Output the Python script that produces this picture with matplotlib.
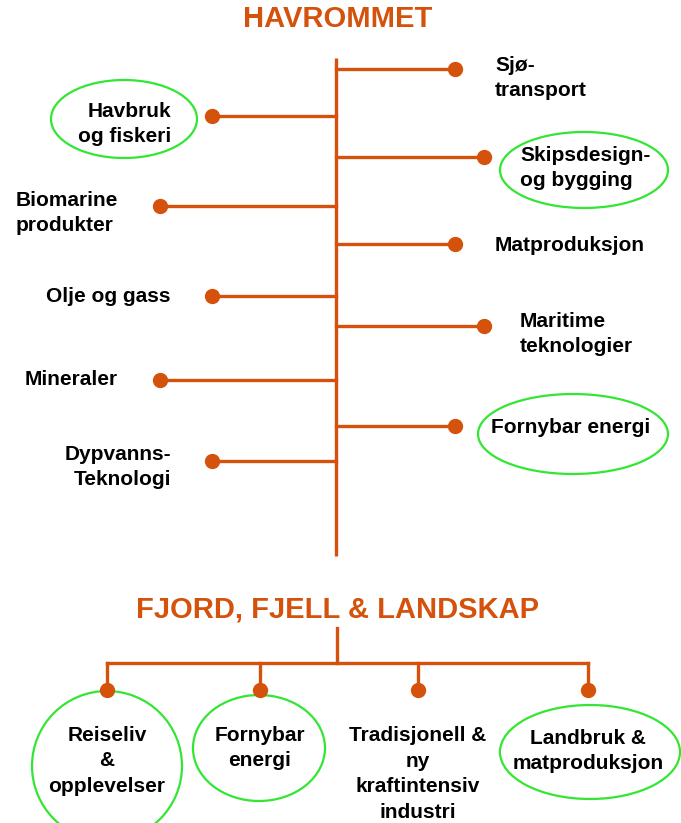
import matplotlib.pyplot as plt
from matplotlib.patches import Ellipse

plt.rcParams['font.family'] = ['Liberation Sans', 'DejaVu Sans']

ORANGE = '#D4520C'
GREEN = '#33E633'

title_sea = "HAVROMMET"
title_land = "FJORD, FJELL & LANDSKAP"

sea_right = ["Sjø-\ntransport", "Skipsdesign-\nog bygging", "Matproduksjon",
             "Maritime\nteknologier", "Fornybar energi"]
sea_left = ["Havbruk\nog fiskeri", "Biomarine\nprodukter", "Olje og gass",
            "Mineraler", "Dypvanns-\nTeknologi"]
land = ["Reiseliv\n&\nopplevelser", "Fornybar\nenergi",
        "Tradisjonell &\nny\nkraftintensiv\nindustri", "Landbruk &\nmatproduksjon"]

# layout (pixel coordinates of the 681x823 picture)
trunk_x = 336
right_y = [69, 157, 244, 326, 426]
right_end = [455, 484, 455, 484, 455]
right_text = [(495, 78, 'left'), (520, 168, 'left'), (495, 245, 'left'),
              (520, 334, 'left'), (491, 427, 'left')]
right_ell = {1: (584, 170, 168, 76), 4: (573, 434, 190, 80)}

left_y = [116, 206, 296, 380, 461]
left_end = [212, 160, 212, 160, 212]
left_text = [(171, 124, 'right'), (16, 213, 'left'), (171, 296, 'right'),
             (25, 379, 'left'), (171, 467, 'right')]
left_ell = {0: (124, 119, 146, 78)}

land_x = [107, 260, 418, 588]
land_text_y = [761, 748, 774, 751]
land_ell = {0: (107, 766, 150, 150), 1: (259, 748, 132, 106), 3: (590, 752, 180, 94)}

fig = plt.figure(figsize=(6.81, 8.23), dpi=100)
ax = fig.add_axes([0, 0, 1, 1])
ax.set_xlim(0, 681)
ax.set_ylim(823, 0)
ax.axis('off')

lw = 2.4
txt = dict(fontsize=15, fontweight='bold', color='black', va='center', linespacing=1.45)

ax.text(338, 19, title_sea, fontsize=21, fontweight='bold', color=ORANGE,
        ha='center', va='center')
ax.plot([trunk_x, trunk_x], [58, 556], color=ORANGE, lw=lw, solid_capstyle='butt')

for i, lab in enumerate(sea_right):
    y = right_y[i]
    ax.plot([trunk_x, right_end[i]], [y, y], color=ORANGE, lw=lw)
    ax.plot(right_end[i], y, 'o', color=ORANGE, ms=10)
    tx, ty, ha = right_text[i]
    ax.text(tx, ty, lab, ha=ha, multialignment='left', **txt)
    if i in right_ell:
        cx, cy, w, h = right_ell[i]
        ax.add_patch(Ellipse((cx, cy), w, h, fill=False, ec=GREEN, lw=1.6))

for i, lab in enumerate(sea_left):
    y = left_y[i]
    ax.plot([left_end[i], trunk_x], [y, y], color=ORANGE, lw=lw)
    ax.plot(left_end[i], y, 'o', color=ORANGE, ms=10)
    tx, ty, ha = left_text[i]
    ax.text(tx, ty, lab, ha=ha, multialignment=ha, **txt)
    if i in left_ell:
        cx, cy, w, h = left_ell[i]
        ax.add_patch(Ellipse((cx, cy), w, h, fill=False, ec=GREEN, lw=1.6))

ax.text(337, 609, title_land, fontsize=21, fontweight='bold', color=ORANGE,
        ha='center', va='center')
ax.plot([337, 337], [628, 663], color=ORANGE, lw=lw)
ax.plot([land_x[0], land_x[-1]], [663, 663], color=ORANGE, lw=lw)
for i, lab in enumerate(land):
    x = land_x[i]
    ax.plot([x, x], [663, 688], color=ORANGE, lw=lw)
    ax.plot(x, 690, 'o', color=ORANGE, ms=10)
    ax.text(x, land_text_y[i], lab, ha='center', multialignment='center', **txt)
    if i in land_ell:
        cx, cy, w, h = land_ell[i]
        ax.add_patch(Ellipse((cx, cy), w, h, fill=False, ec=GREEN, lw=1.6))

fig.savefig('out.png', dpi=100)
